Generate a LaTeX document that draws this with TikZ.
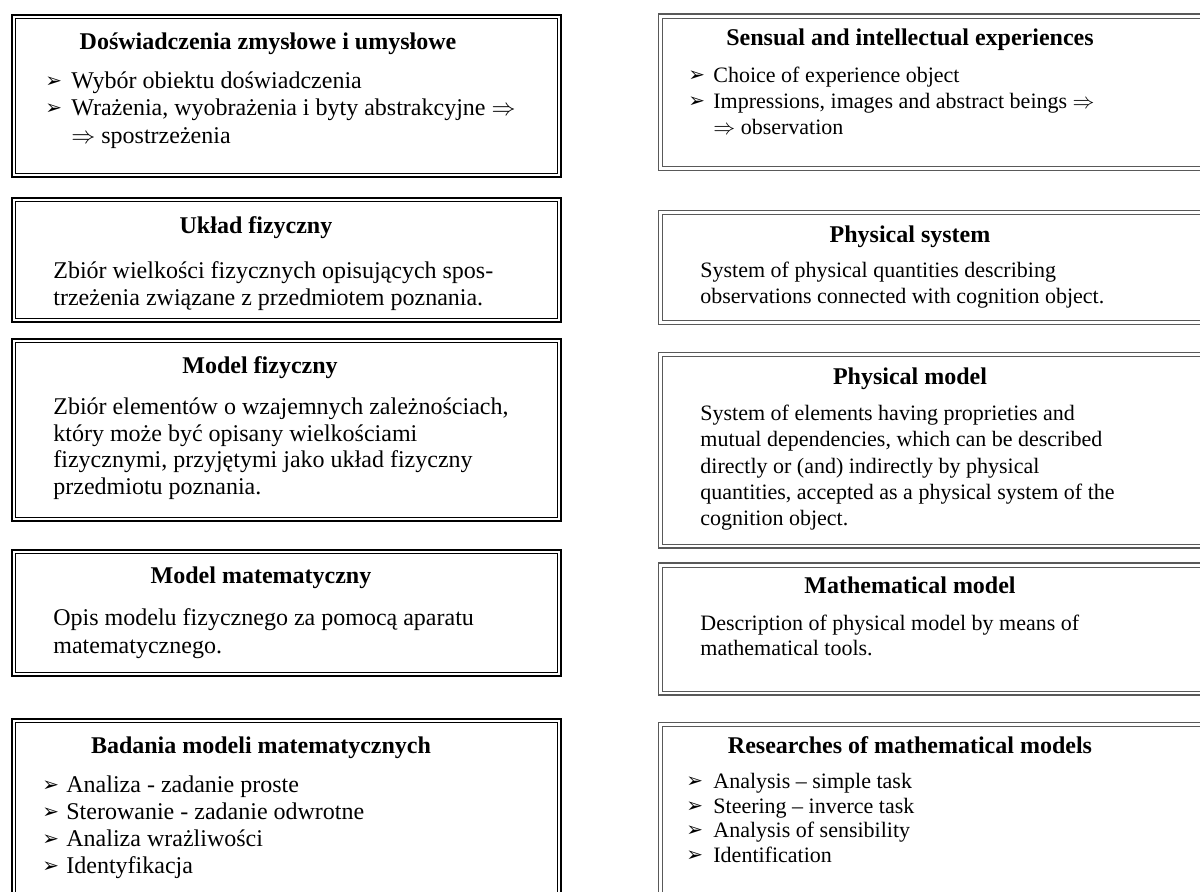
\documentclass[tikz,border=0pt]{standalone}
\usepackage{fontspec}
\setmainfont{Liberation Serif}
\newfontfamily\dejavu{DejaVu Sans}
\usetikzlibrary{fit}
\tikzset{
  x=0.5pt, y=-0.5pt,
  lout/.style={draw=black, line width=1pt, inner sep=0pt, outer sep=0pt},
  lin/.style={draw=black, line width=0.5pt},
  rout/.style={draw=black!65, line width=0.7pt, inner sep=0pt, outer sep=0pt},
  rin/.style={draw=black!65, line width=0.5pt},
  ttl/.style={anchor=base, inner sep=0pt, font=\fontsize{12}{14}\selectfont\bfseries},
  lt/.style={anchor=base west, inner sep=0pt, font=\fontsize{12}{14}\selectfont},
  rt/.style={anchor=base west, inner sep=0pt, font=\fontsize{11}{13}\selectfont},
  bul/.style={anchor=base west, inner sep=0pt, font=\dejavu\fontsize{10}{12}\selectfont},
}
\newcommand\lbx[5]{\node[lout, fit={(#2,#3)(#4,#5)}] (#1) {};
  \draw[lin] ([shift={(3.6,3.6)}]#1.north west) rectangle ([shift={(-3.6,-3.6)}]#1.south east);}
\newcommand\rbx[5]{\node[rout, fit={(#2,#3)(#4,#5)}] (#1) {};
  \draw[rin] ([shift={(4,4)}]#1.north west) rectangle ([shift={(-4,-4)}]#1.south east);}
\begin{document}
\begin{tikzpicture}
\useasboundingbox (0,0) rectangle (1200,891);
\clip (0,0) rectangle (1200,891);
% left column boxes
\lbx{L1}{12}{15}{561}{177}
\lbx{L2}{12}{198}{561}{322}
\lbx{L3}{12}{339}{561}{521}
\lbx{L4}{12}{550}{561}{676}
\lbx{L5}{12}{719}{561}{905}
% right column boxes
\rbx{R1}{658.5}{14}{1215}{170.5}
\rbx{R2}{658.5}{210.5}{1215}{324.5}
\rbx{R3}{658.5}{352.5}{1215}{548}
\rbx{R4}{658.5}{563}{1215}{695}
\rbx{R5}{658.5}{722.5}{1215}{905}

% L1
\node[ttl] (t1) at (268,49) {Doświadczenia zmysłowe i umysłowe};
\node[bul] (b1a) at (45,87) {➢};
\node[lt] (l1a) at (71,88) {Wybór obiektu doświadczenia};
\node[bul] (b1b) at (45,114) {➢};
\node[lt] (l1b) at (71,115) {Wrażenia, wyobrażenia i byty abstrakcyjne $\Rightarrow$};
\node[lt] (l1c) at (71,143) {$\Rightarrow$ spostrzeżenia};
% L2
\node[ttl] (t2) at (256,233) {Układ fizyczny};
\node[lt] (l2a) at (53,278) {Zbiór wielkości fizycznych opisujących spos-};
\node[lt] (l2b) at (53,305) {trzeżenia związane z przedmiotem poznania.};
% L3
\node[ttl] (t3) at (260,373) {Model fizyczny};
\node[lt] (l3a) at (53,414) {Zbiór elementów o wzajemnych zależnościach,};
\node[lt] (l3b) at (53,441) {który może być opisany wielkościami};
\node[lt] (l3c) at (53,467) {fizycznymi, przyjętymi jako układ fizyczny};
\node[lt] (l3d) at (53,494) {przedmiotu poznania.};
% L4
\node[ttl] (t4) at (261,583) {Model matematyczny};
\node[lt] (l4a) at (53,625) {Opis modelu fizycznego za pomocą aparatu};
\node[lt] (l4b) at (53,653) {matematycznego.};
% L5
\node[ttl] (t5) at (261,753) {Badania modeli matematycznych};
\node[bul] (b5a) at (42,791) {➢};
\node[lt] (l5a) at (66,792) {Analiza - zadanie proste};
\node[bul] (b5b) at (42,818) {➢};
\node[lt] (l5b) at (66,819) {Sterowanie - zadanie odwrotne};
\node[bul] (b5c) at (42,845) {➢};
\node[lt] (l5c) at (66,846) {Analiza wrażliwości};
\node[bul] (b5d) at (42,872) {➢};
\node[lt] (l5d) at (66,873) {Identyfikacja};

% R1
\node[ttl] (u1) at (910,45) {Sensual and intellectual experiences};
\node[bul] (c1a) at (688,81) {➢};
\node[rt] (r1a) at (713,82) {Choice of experience object};
\node[bul] (c1b) at (688,107) {➢};
\node[rt] (r1b) at (713,108) {Impressions, images and abstract beings $\Rightarrow$};
\node[rt] (r1c) at (713,134) {$\Rightarrow$ observation};
% R2
\node[ttl] (u2) at (910,242) {Physical system};
\node[rt] (r2a) at (700,277) {System of physical quantities describing};
\node[rt] (r2b) at (700,303) {observations connected with cognition object.};
% R3
\node[ttl] (u3) at (910,384) {Physical model};
\node[rt] (r3a) at (700,420) {System of elements having proprieties and};
\node[rt] (r3b) at (700,446) {mutual dependencies, which can be described};
\node[rt] (r3c) at (700,473) {directly or (and) indirectly by physical};
\node[rt] (r3d) at (700,499) {quantities, accepted as a physical system of the};
\node[rt] (r3e) at (700,525) {cognition object.};
% R4
\node[ttl] (u4) at (910,593) {Mathematical model};
\node[rt] (r4a) at (700,630) {Description of physical model by means of};
\node[rt] (r4b) at (700,655) {mathematical tools.};
% R5
\node[ttl] (u5) at (910,753) {Researches of mathematical models};
\node[bul] (c5a) at (686,787) {➢};
\node[rt] (r5a) at (713,788) {Analysis – simple task};
\node[bul] (c5b) at (686,812) {➢};
\node[rt] (r5b) at (713,813) {Steering – inverce task};
\node[bul] (c5c) at (686,836) {➢};
\node[rt] (r5c) at (713,837) {Analysis of sensibility};
\node[bul] (c5d) at (686,861) {➢};
\node[rt] (r5d) at (713,862) {Identification};
\end{tikzpicture}
\end{document}
